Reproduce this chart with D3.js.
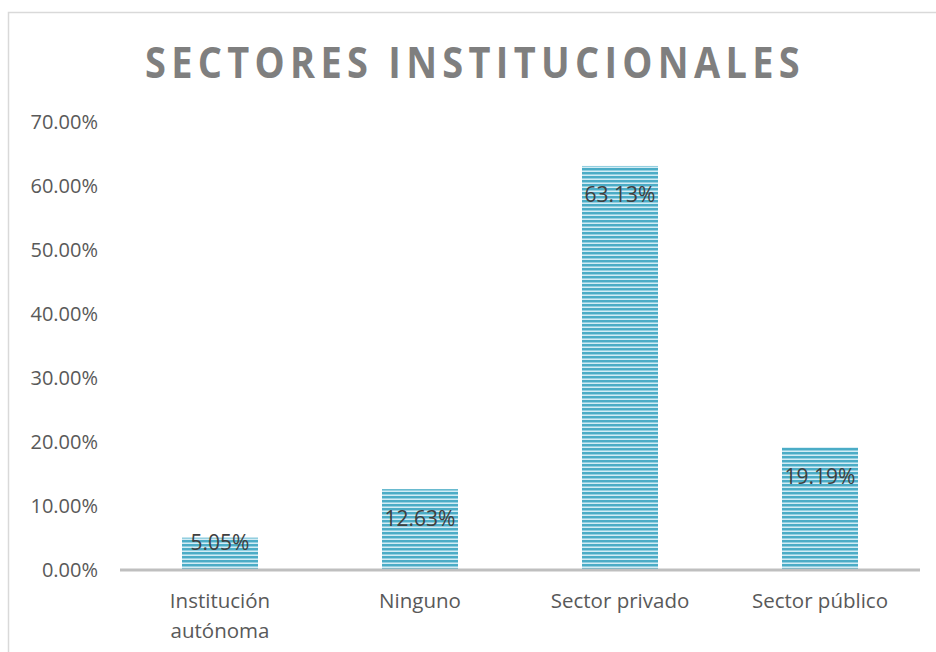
<!DOCTYPE html>
<html><head><meta charset="utf-8">
<script src="https://cdn.jsdelivr.net/npm/d3@7/dist/d3.min.js"></script>
<style>body{margin:0;background:#fff}svg{display:block}</style>
</head><body>
<script>
const categories = [["Institución","autónoma"],["Ninguno"],["Sector privado"],["Sector público"]];
const values = [5.05, 12.63, 63.13, 19.19];
const ticks = [0,10,20,30,40,50,60,70];
const title = "SECTORES INSTITUCIONALES";

const W = 936, H = 652;
const svg = d3.select("body").append("svg").attr("width", W).attr("height", H);

const defs = svg.append("defs");
const pat = defs.append("pattern").attr("id","stripes").attr("patternUnits","userSpaceOnUse")
  .attr("width",8).attr("height",4);
pat.append("rect").attr("width",8).attr("height",4).attr("fill","#d2ecf4");
pat.append("rect").attr("y",0).attr("width",8).attr("height",2).attr("fill","#4bacc6");
pat.append("rect").attr("y",2).attr("width",8).attr("height",1).attr("fill","#93cfe0");

svg.append("rect").attr("x",8.5).attr("y",12.5).attr("width",1000).attr("height",1000)
  .attr("fill","none").attr("stroke","#d9d9d9").attr("stroke-width",1.5);

const x = d3.scaleBand().domain(categories.map((c,i)=>i)).range([120,920]).paddingInner(0.62).paddingOuter(0.31);
const y = d3.scaleLinear().domain([0,70]).range([570,122]);

svg.append("text").attr("x",475).attr("y",78).attr("text-anchor","middle")
  .attr("font-family","Open Sans").attr("font-weight","bold").attr("font-size",43)
  .attr("letter-spacing",6)
  .attr("fill","#7f7f7f").attr("textLength",660).attr("lengthAdjust","spacingAndGlyphs").text(title);

const yAxis = svg.append("g").attr("transform","translate(98,0)")
  .call(d3.axisLeft(y).tickValues(ticks).tickSize(0).tickPadding(0).tickFormat(d=>d.toFixed(2)+"%"));
yAxis.select(".domain").remove();
yAxis.selectAll("text").attr("font-family","Open Sans").attr("font-size",20).attr("fill","#595959").attr("dy","0.3em");

svg.selectAll("rect.bar").data(values).join("rect").attr("class","bar")
  .attr("x",(d,i)=>x(i)).attr("width",x.bandwidth())
  .attr("y",d=>y(d)).attr("height",d=>y(0)-y(d)).attr("fill","url(#stripes)");

svg.append("line").attr("x1",120).attr("x2",920).attr("y1",y(0)).attr("y2",y(0))
  .attr("stroke","#bfbfbf").attr("stroke-width",3);

svg.selectAll("text.lbl").data(values).join("text").attr("class","lbl")
  .attr("x",(d,i)=>x(i)+x.bandwidth()/2)
  .attr("y",d=>{const h=y(0)-y(d); return y(d)+Math.min(29,h-27);})
  .attr("dy","0.35em").attr("text-anchor","middle")
  .attr("font-family","Open Sans").attr("font-size",21).attr("fill","#404040")
  .text(d=>d.toFixed(2)+"%");

const xAxis = svg.append("g").attr("transform",`translate(0,${y(0)})`)
  .call(d3.axisBottom(x).tickSize(0).tickFormat(""));
xAxis.select(".domain").remove();
categories.forEach((c,i)=>{
  const t = svg.append("text").attr("x",x(i)+x.bandwidth()/2).attr("y",601).attr("text-anchor","middle")
    .attr("font-family","Open Sans").attr("font-size",20.5).attr("fill","#595959");
  c.forEach((line,j)=>t.append("tspan").attr("x",x(i)+x.bandwidth()/2).attr("dy",j?30:"0.35em").text(line));
});
</script>
</body></html>
